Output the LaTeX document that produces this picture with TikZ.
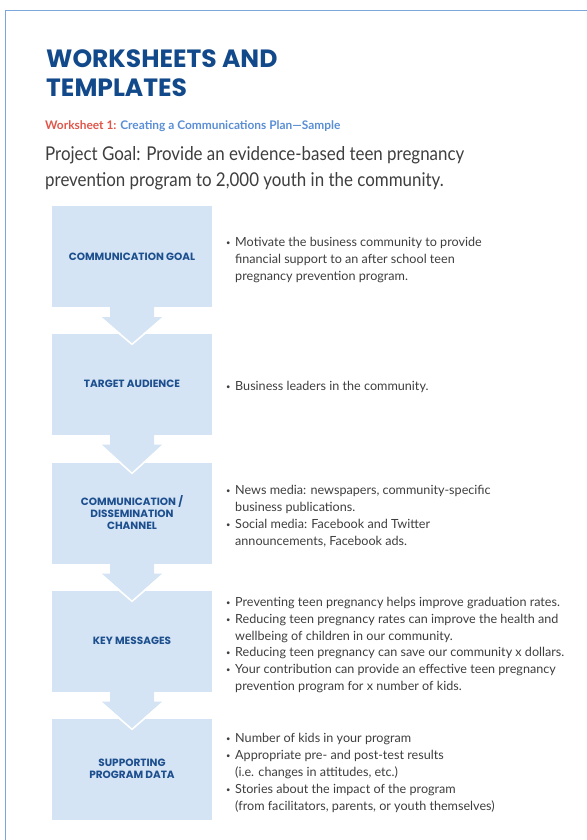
\documentclass[tikz,border=0pt]{standalone}
\usepackage{fontspec}
\usetikzlibrary{calc}
\newfontfamily\headfont{Poppins}
\newfontfamily\subfont{Lato}
\newfontfamily\handfont{Lato}[FakeStretch=0.89]
\newfontfamily\notefont{Lato}
\definecolor{framecol}{HTML}{7BA7DD}
\definecolor{boxfill}{HTML}{D4E4F4}
\definecolor{navy}{HTML}{12498A}
\definecolor{labelblue}{HTML}{1D4F8E}
\definecolor{subred}{HTML}{E0564A}
\definecolor{subblue}{HTML}{5A8ED4}
\definecolor{ink}{HTML}{3E3E3E}
\newcommand{\bu}{\makebox[9pt][l]{\raisebox{1pt}{\scalebox{0.6}{\textbullet}}}}
\newcommand{\ind}{\hspace*{9pt}}
\tikzset{
  stagebox/.style={fill=boxfill, draw=none, minimum width=160pt, minimum height=101pt,
    inner sep=0pt, align=center, text=labelblue,
    font=\headfont\bfseries\fontsize{10.5}{12}\selectfont},
  stagearrow/.style={fill=boxfill, draw=none},
  arrowedge/.style={draw=white, line width=1.6pt},
  note/.style={anchor=west, inner sep=0pt, align=left, text=ink,
    font=\notefont\fontsize{12.6}{16.9}\selectfont},
  heading/.style={anchor=base west, inner sep=0pt, text=navy,
    font=\headfont\bfseries\fontsize{25}{28}\selectfont}
}
\begin{document}
\begin{tikzpicture}[x=1pt,y=-1pt]
\useasboundingbox (0,0) rectangle (586,840);
% page frame
\draw[framecol, line width=1.3pt] (5.5,841) -- (5.5,10.5) -- (587,10.5);

% heading
\node[heading] (h1) at (46,68) {WORKSHEETS AND};
\node[heading] (h2) at (46,97) {TEMPLATES};
\node[anchor=base west, inner sep=0pt,
      font=\subfont\bfseries\fontsize{11.9}{13}\selectfont] (sub) at (45,130)
      {\textcolor{subred}{Worksheet 1:} \textcolor{subblue}{Creating a Communications Plan—Sample}};
% base anchor of a two-line node sits on the last line
\node[anchor=base west, inner sep=0pt, align=left, text=ink,
      font=\handfont\fontsize{19}{25.5}\selectfont] (goal) at (45,186)
      {Project Goal: Provide an evidence-based teen pregnancy\\
       prevention program to 2,000 youth in the community.};

% stages
\node[stagebox] (s1) at (132,256.5) {COMMUNICATION GOAL};
\node[stagebox] (s2) at (132,384) {TARGET AUDIENCE};
\node[stagebox] (s3) at (132,513) {COMMUNICATION /\\DISSEMINATION\\CHANNEL};
\node[stagebox] (s4) at (132,641) {KEY MESSAGES};
\node[stagebox] (s5) at (132,769) {SUPPORTING\\PROGRAM DATA};

% down arrows between stages
\foreach \a/\b in {s1/s2, s2/s3, s3/s4, s4/s5}{
  \fill[stagearrow] ($(\a.south)+(-22,-0.5)$) -- ($(\a.south)+(-22,10)$) -- ($(\a.south)+(-30,10)$)
     -- ($(\b.north)+(0,10)$) -- ($(\a.south)+(30,10)$) -- ($(\a.south)+(22,10)$)
     -- ($(\a.south)+(22,-0.5)$) -- cycle;
  \draw[arrowedge] ($(\a.south)+(-31.5,10.5)$) -- ($(\b.north)+(0,11)$) -- ($(\a.south)+(31.5,10.5)$);
}

% notes beside each stage
\node[note] (n1) at (226,260) {\bu Motivate the business community to provide\\
  \ind financial support to an after school teen\\
  \ind pregnancy prevention program.};
\node[note] (n2) at (226,387) {\bu Business leaders in the community.};
\node[note] (n3) at (226,516) {\bu News media: newspapers, community-specific\\
  \ind business publications.\\
  \bu Social media: Facebook and Twitter\\
  \ind announcements, Facebook ads.};
\node[note] (n4) at (226,645) {\bu Preventing teen pregnancy helps improve graduation rates.\\
  \bu Reducing teen pregnancy rates can improve the health and\\
  \ind wellbeing of children in our community.\\
  \bu Reducing teen pregnancy can save our community x dollars.\\
  \bu Your contribution can provide an effective teen pregnancy\\
  \ind prevention program for x number of kids.};
\node[note] (n5) at (226,773) {\bu Number of kids in your program\\
  \bu Appropriate pre- and post-test results\\
  \ind (i.e. changes in attitudes, etc.)\\
  \bu Stories about the impact of the program\\
  \ind (from facilitators, parents, or youth themselves)};
\end{tikzpicture}
\end{document}
